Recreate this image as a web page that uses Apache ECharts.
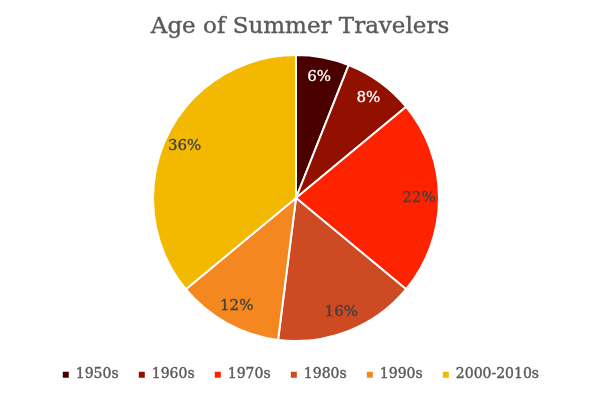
<!DOCTYPE html>
<html><head><meta charset="utf-8">
<script src="https://cdn.jsdelivr.net/npm/echarts@6/dist/echarts.min.js"></script>
<style>html,body{margin:0;padding:0;background:#fff}#c{width:600px;height:401px}</style>
</head><body><div id="c"></div>
<script>
const categories = ['1950s','1960s','1970s','1980s','1990s','2000-2010s'];
const values = [6, 8, 22, 16, 12, 36];
const colors = ['#4b0000','#921000','#ff2200','#cd4a22','#f4871f','#f3b800'];
const labelColors = ['#ffffff','#ffffff','#404040','#404040','#404040','#404040'];
const titleText = 'Age of Summer Travelers';

const FONT = '"DejaVu Serif", serif';
const chart = echarts.init(document.getElementById('c'));
const pieData = categories.map((c,i)=>({name:c, value:values[i], itemStyle:{color:colors[i]}}));
const labelData = categories.map((c,i)=>({name:c, value:values[i],
  label:{color:labelColors[i], textBorderColor:labelColors[i], textBorderWidth:0.3}}));
chart.setOption({
  animation:false,
  title:{text:titleText, left:'center', top:11,
    textStyle:{fontFamily:FONT, fontSize:23, fontWeight:'normal', color:'#595959',
      textBorderColor:'#595959', textBorderWidth:0.4}},
  legend:{data:categories, bottom:14, left:'center', icon:'rect', itemWidth:8, itemHeight:8, itemGap:18,
    textStyle:{fontFamily:FONT, fontSize:14, color:'#595959', padding:[0,0,0,1],
      textBorderColor:'#595959', textBorderWidth:0.4}},
  series:[
    {type:'pie', center:[296,198], radius:[0,143], startAngle:90, clockwise:true,
     data:pieData, label:{show:false}, labelLine:{show:false},
     itemStyle:{borderColor:'#fff', borderWidth:2}, silent:true},
    {type:'pie', center:[296,198], radius:[97,143], startAngle:90, clockwise:true,
     data:labelData, silent:true, legendHoverLink:false,
     itemStyle:{color:'rgba(0,0,0,0)'},
     label:{show:true, position:'inside', formatter:'{c}%', fontFamily:FONT, fontSize:15},
     labelLine:{show:false}}
  ]
});
</script></body></html>
